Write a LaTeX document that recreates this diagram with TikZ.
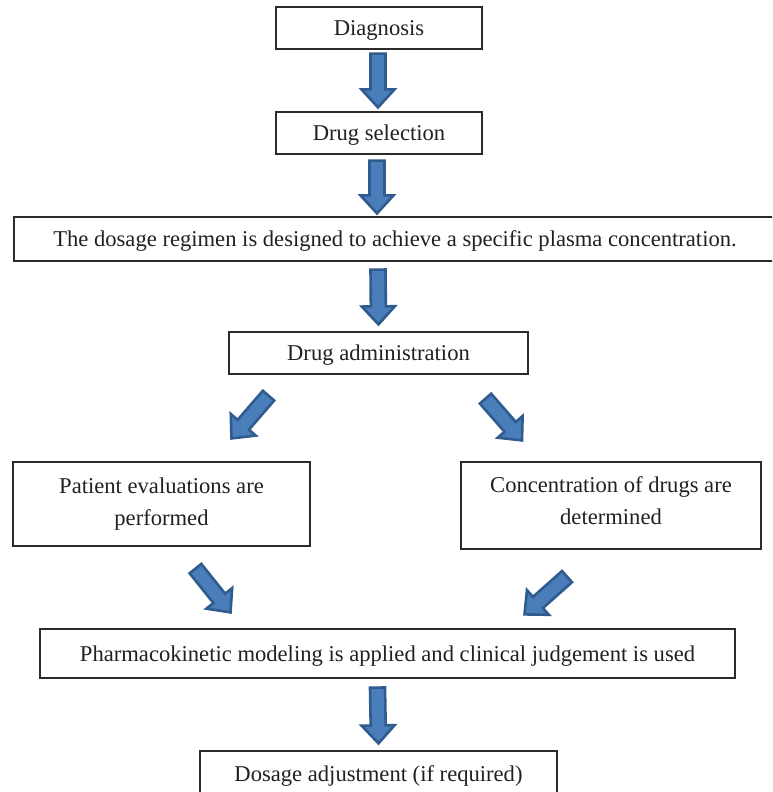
\documentclass[tikz,border=0pt]{standalone}
\usepackage{fontspec}
\setmainfont{Liberation Serif}
\usetikzlibrary{calc}
\definecolor{arrowfill}{HTML}{4A7EBB}
\definecolor{arrowline}{HTML}{2F5B8E}
\definecolor{boxline}{HTML}{2B2B2B}
\tikzset{
  box/.style={draw=boxline, line width=1.2pt, fill=white, inner sep=0pt,
    align=center, font=\fontsize{22.6}{32}\selectfont, text=black!87},
  oneline/.style={box, text depth=0pt},
  blockarrow/.style={fill=arrowfill, draw=arrowline, line width=2.6pt, line join=miter},
}
% block arrow from tail centre #1 to tip #2
\newcommand\blockarrow[2]{%
  \coordinate (ba-s) at (#1);
  \coordinate (ba-t) at (#2);
  \coordinate (ba-n) at ($(ba-t)!18pt!(ba-s)$);
  \draw[blockarrow]
    ($(ba-s)!7.5pt!90:(ba-t)$) --
    ($(ba-n)!7.5pt!90:(ba-t)$) --
    ($(ba-n)!16.5pt!90:(ba-t)$) --
    (ba-t) --
    ($(ba-n)!16.5pt!-90:(ba-t)$) --
    ($(ba-n)!7.5pt!-90:(ba-t)$) --
    ($(ba-s)!7.5pt!-90:(ba-t)$) -- cycle;
}
\begin{document}
\begin{tikzpicture}[x=1pt, y=-1pt]
  \useasboundingbox (0,0) rectangle (772,792);
  \clip (0,0) rectangle (772,792);

  \node[oneline, minimum width=206pt, minimum height=42pt] (diag) at (379,28) {Diagnosis};
  \node[oneline, minimum width=206pt, minimum height=42pt] (sel) at (379,133) {Drug selection};
  \node[oneline, minimum width=762pt, minimum height=44pt] (reg) at (395,239)
    {The dosage regimen is designed to achieve a specific plasma concentration.};
  \node[oneline, minimum width=299pt, minimum height=42pt] (adm) at (378.5,353) {Drug administration};
  \node[box, minimum width=297pt, minimum height=84pt] (pat) at (161.5,504)
    {Patient evaluations are\\performed};
  \node[box, text depth=9pt, minimum width=300pt, minimum height=87pt] (conc) at (611,505.5)
    {Concentration of drugs are\\determined};
  \node[oneline, minimum width=695pt, minimum height=49pt] (pk) at (387.5,653.5)
    {Pharmacokinetic modeling is applied and clinical judgement is used};
  \node[oneline, minimum width=357pt, minimum height=46pt] (adj) at (378.5,774)
    {Dosage adjustment (if required)};

  % vertical arrows between stacked boxes
  \blockarrow{$(diag.south)+(-1,4)$}{$(sel.north)+(-1,-4)$}
  \blockarrow{$(sel.south)+(-2,6)$}{$(reg.north)+(-18,-3)$}
  \blockarrow{$(reg.south)+(-17,8)$}{$(adm.north)+(0,-7)$}
  \blockarrow{$(pk.south)+(-10,9)$}{$(adj.north)+(0,-7)$}

  % branching arrows
  \coordinate (adm-l) at ($(adm.south)+(-110,21)$);
  \coordinate (pat-t) at ($(pat.north)+(70,-23)$);
  \coordinate (adm-r) at ($(adm.south)+(107,24)$);
  \coordinate (conc-t) at ($(conc.north)+(-89,-21)$);
  \blockarrow{adm-l}{pat-t}
  \blockarrow{adm-r}{conc-t}

  % merging arrows
  \coordinate (pat-b) at ($(pat.south)+(34,22)$);
  \coordinate (pk-l) at ($(pk.north)+(-157,-16)$);
  \coordinate (conc-b) at ($(conc.south)+(-44,27)$);
  \coordinate (pk-r) at ($(pk.north)+(137,-14)$);
  \blockarrow{pat-b}{pk-l}
  \blockarrow{conc-b}{pk-r}
\end{tikzpicture}
\end{document}
